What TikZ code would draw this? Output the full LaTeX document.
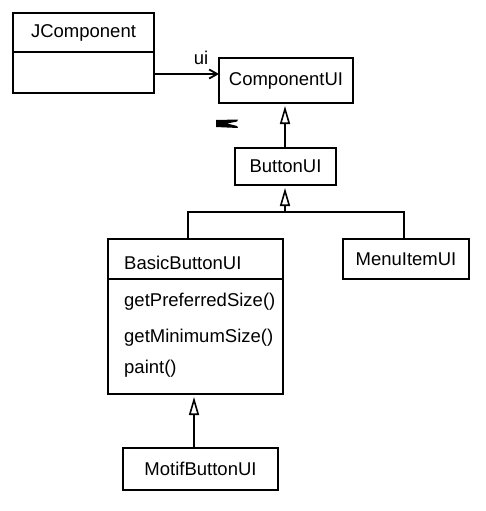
\documentclass[tikz,border=0pt]{standalone}
\usepackage{fontspec}
\setmainfont{Liberation Sans}
\usetikzlibrary{arrows.meta}
\begin{document}
\begin{tikzpicture}[x=1pt,y=-1pt,
  box/.style={draw, line width=1.8pt, inner sep=0pt, anchor=center},
  lbl/.style={font=\fontsize{18.5}{22}\selectfont, inner sep=0pt},
  conn/.style={line width=1.8pt},
  inherit/.style={conn, -{Triangle[open, width=10pt, length=18pt, line width=1.6pt]}, shorten >=3pt},
  assoc/.style={conn, -{Straight Barb[length=8pt, width=9pt, line width=1.8pt]}}]
\useasboundingbox (0,0) rectangle (486,511);
% boxes
\node[box, minimum width=141pt, minimum height=80pt] (jc) at (83.5,53) {};
\draw[conn] (jc.west |- 0,52) -- (jc.east |- 0,52);
\node[lbl] (jct) at (83.5,33) {JComponent};

\node[box, minimum width=134pt, minimum height=45pt, lbl] (cui) at (286,80.5) {ComponentUI};
\node[box, minimum width=101pt, minimum height=37pt, lbl] (bui) at (285.5,166.5) {ButtonUI};

\node[box, minimum width=175pt, minimum height=155pt] (bbui) at (195.5,316.5) {};
\draw[conn] (bbui.west |- 0,279) -- (bbui.east |- 0,279);
\node[lbl, anchor=west] (bbt) at (124,263) {BasicButtonUI};
\node[lbl, anchor=west] (m1) at (124,302) {getPreferredSize()};
\node[lbl, anchor=west] (m2) at (124,338) {getMinimumSize()};
\node[lbl, anchor=west] (m3) at (124,369) {paint()};

\node[box, minimum width=126pt, minimum height=40pt, lbl] (mui) at (406,259) {MenuItemUI};
\node[box, minimum width=155pt, minimum height=42pt, lbl] (mbui) at (200.5,469) {MotifButtonUI};

% association
\coordinate (ajc) at (154,74);
\coordinate (acu) at (219,74);
\draw[assoc] (ajc) -- (acu);
\node[lbl] (ui) at (201,58) {ui};

% small mark
\fill (216,120) -- (238,119.5) -- (237,121.5) -- (227,123.5) -- (237,126) -- (238,128) -- (216,127) -- cycle;

% inheritance
\coordinate (bt) at (285,148);
\coordinate (ct) at (285,103);
\draw[inherit] (bt) -- (ct);

\coordinate (j) at (285,212);
\coordinate (bs) at (285,185);
\coordinate (bl) at (188,239);
\coordinate (ml) at (404,239);
\draw[conn] (bl) |- (j) -| (ml);
\draw[inherit] (j) -- (bs);

\coordinate (mt) at (194,448);
\coordinate (bb) at (194,394);
\draw[inherit] (mt) -- (bb);
\end{tikzpicture}
\end{document}
